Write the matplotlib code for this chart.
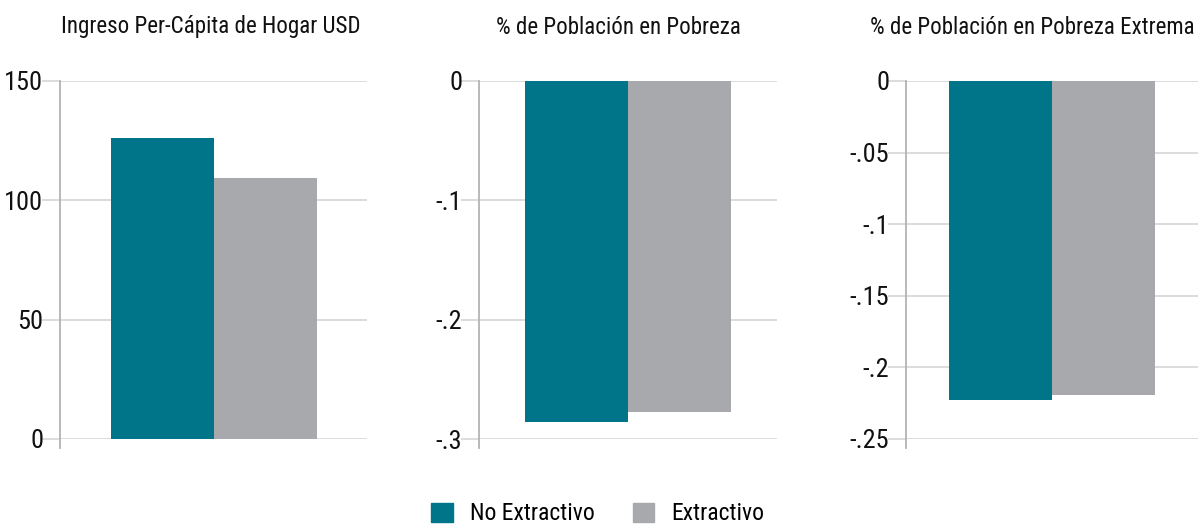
import numpy as np
import matplotlib
matplotlib.use("Agg")
import matplotlib.pyplot as plt
import matplotlib.patches as mpatches
from matplotlib import font_manager

names = {f.name for f in font_manager.fontManager.ttflist}
fam = [n for n in ['Liberation Sans Narrow', 'Roboto Condensed', 'Roboto'] if n in names] + ['DejaVu Sans']
plt.rcParams['font.family'] = fam

# data
titles = ['Ingreso Per-Cápita de Hogar USD', '% de Población en Pobreza', '% de Población en Pobreza Extrema']
series = ['No Extractivo', 'Extractivo']
no_extractivo = [126.0, -0.286, -0.223]
extractivo = [109.5, -0.277, -0.219]
yticks = [[0, 50, 100, 150], [0, -0.1, -0.2, -0.3], [0, -0.05, -0.1, -0.15, -0.2, -0.25]]
ytick_labels = [['0', '50', '100', '150'], ['0', '-.1', '-.2', '-.3'],
                ['0', '-.05', '-.1', '-.15', '-.2', '-.25']]
ylims = [(0, 150), (-0.3, 0), (-0.25, 0)]

teal = '#007488'
gray = '#a8a9ad'
grid_c = '#d9d9d9'
axis_c = '#b3b3b3'
text_c = '#111111'

fig = plt.figure(figsize=(11.98, 5.27), dpi=100)
W, H = 1198, 527
boxes = [(60, 307), (479, 298), (906, 292)]
title_x = [211, 618, 1032]
top, bot = 81, 439

for i in range(3):
    l, w = boxes[i]
    ax = fig.add_axes([l / W, 1 - bot / H, w / W, (bot - top) / H])
    half = w / 2 / 103
    ax.bar([-0.5], [no_extractivo[i]], width=1, color=teal, zorder=3)
    ax.bar([0.5], [extractivo[i]], width=1, color=gray, zorder=3)
    ax.set_xlim(-half, half)
    ax.set_ylim(*ylims[i])
    ax.set_yticks(yticks[i])
    ax.set_yticklabels(ytick_labels[i])
    ax.set_xticks([])
    for s in ax.spines.values():
        s.set_visible(False)
    ax.yaxis.grid(True, color=grid_c, linewidth=1.3, zorder=0)
    ax.tick_params(axis='y', length=13, width=1.3, color=grid_c, pad=-1,
                   labelsize=19, labelcolor=text_c)
    ax.plot([0, 0], [-0.025, 1], transform=ax.transAxes, color=axis_c,
            linewidth=1.3, clip_on=False, zorder=4)
    fig.text(title_x[i] / W, 1 - 27 / H, titles[i], ha='center', va='center',
             fontsize=16.6, color=text_c)

handles = [mpatches.Patch(color=teal, label=series[0]),
           mpatches.Patch(color=gray, label=series[1])]
fig.legend(handles=handles, loc='center', bbox_to_anchor=(598 / W, 1 - 514 / H),
           ncol=2, frameon=False, fontsize=17, handlelength=0.9, handleheight=0.9,
           columnspacing=1.6, handletextpad=0.75)

fig.savefig('out.png', dpi=100)
